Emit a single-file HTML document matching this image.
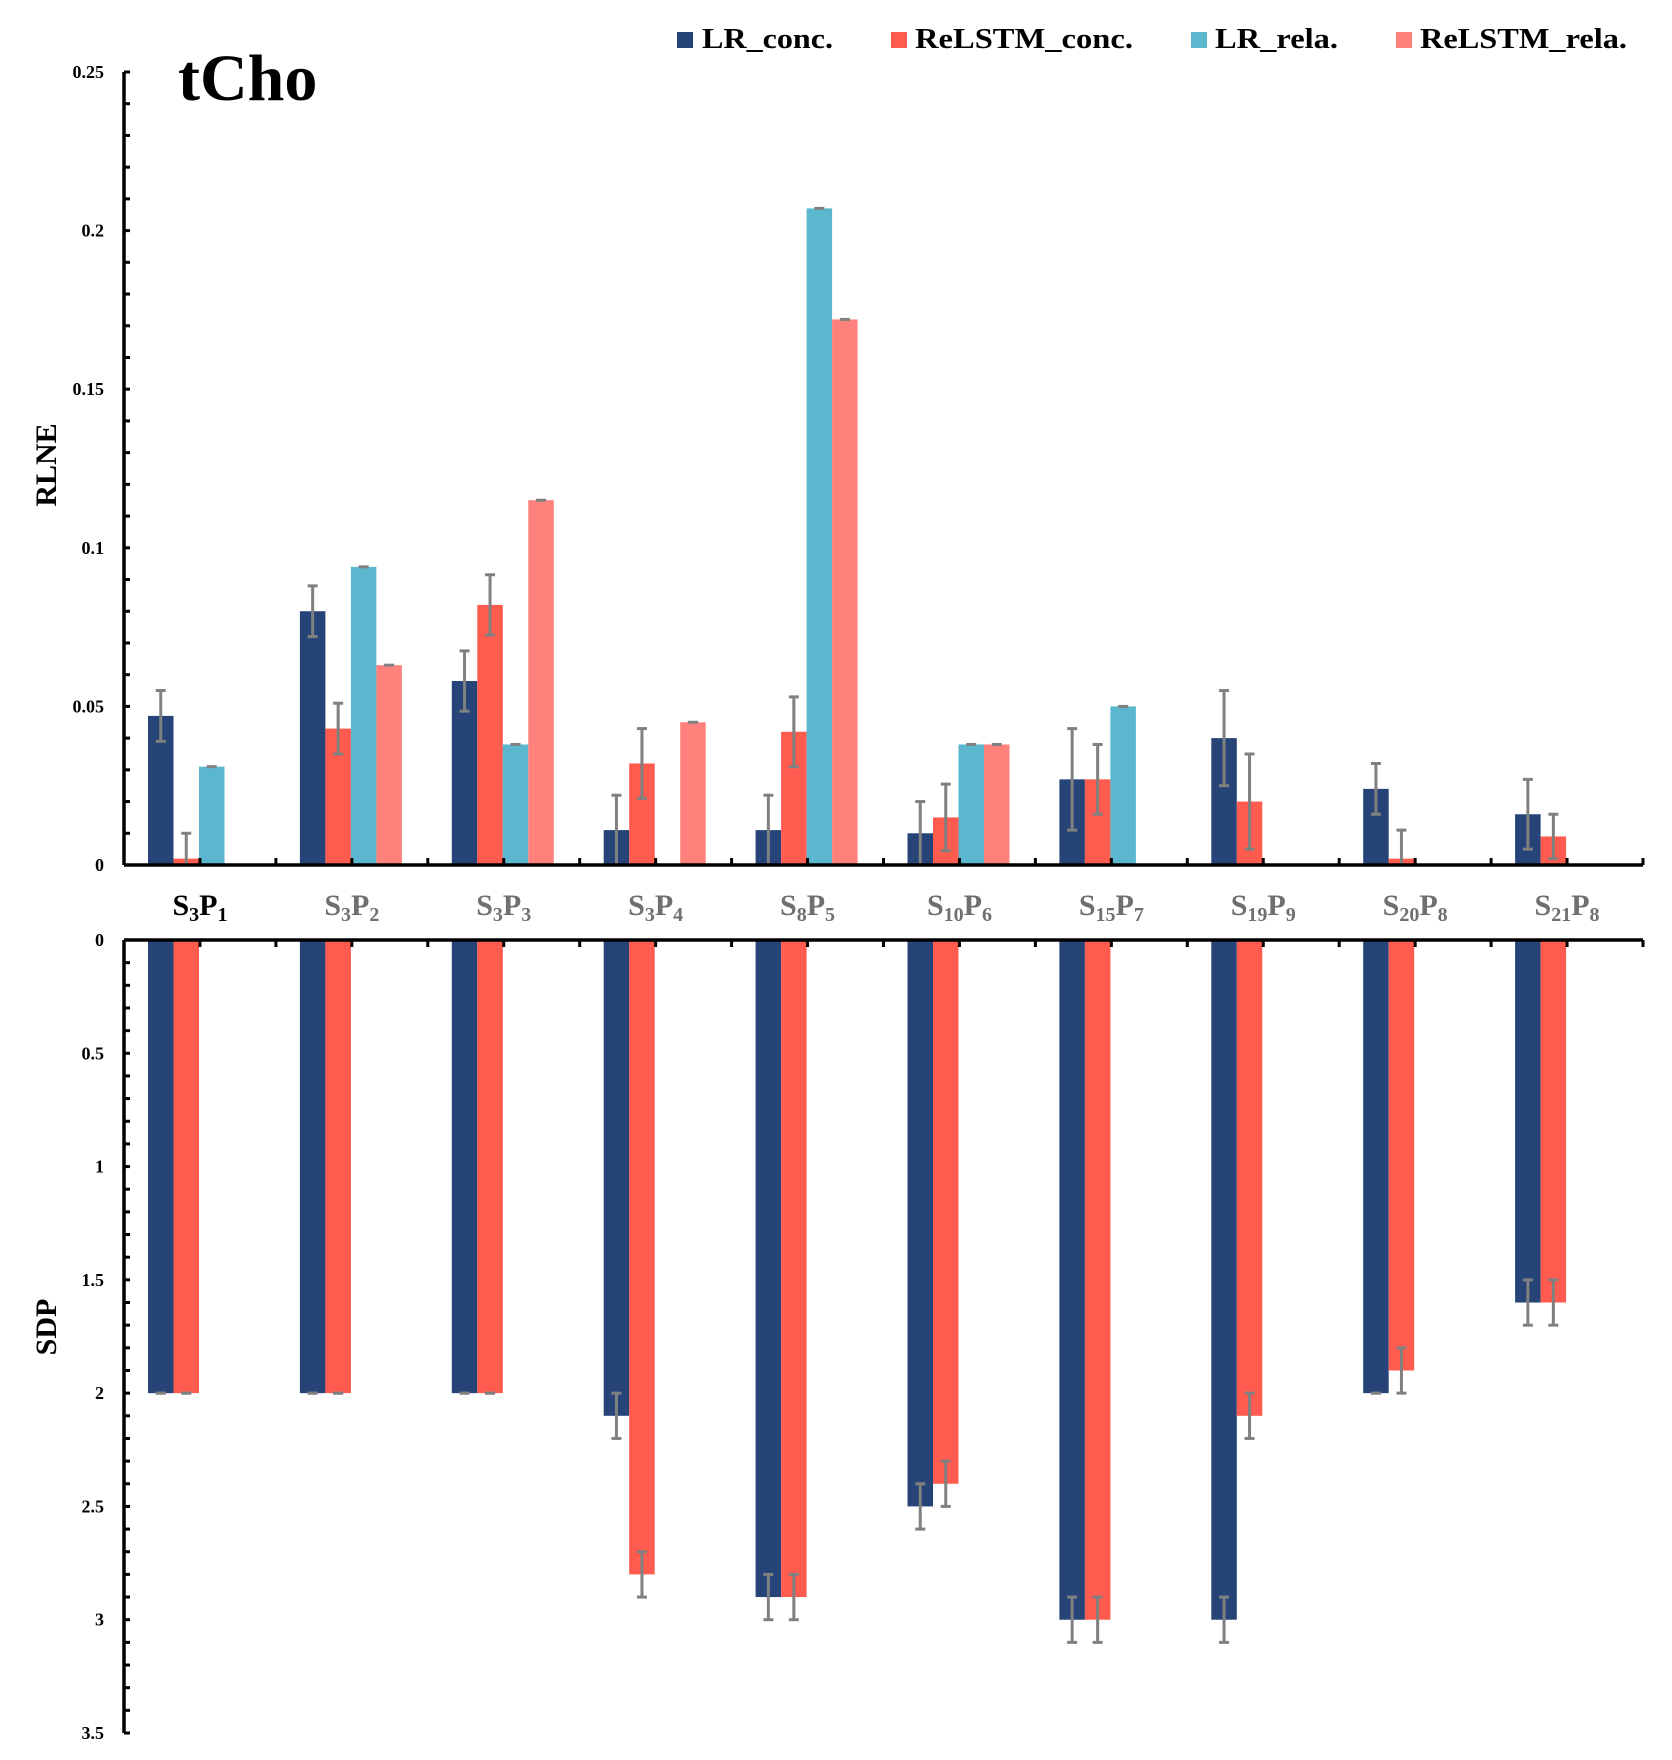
<!DOCTYPE html>
<html><head><meta charset="utf-8"><style>
html,body{margin:0;padding:0;background:#fff;}
svg{display:block;font-family:"Liberation Serif",serif;font-weight:bold;}
</style></head><body>
<svg id="chart" width="1672" height="1760" viewBox="0 0 1672 1760" xmlns="http://www.w3.org/2000/svg">
<text x="178" y="100" font-size="66">tCho</text>
<g>
<rect x="677" y="32" width="16" height="16" fill="#264478"/>
<text x="702" y="48" font-size="28" textLength="131" lengthAdjust="spacingAndGlyphs">LR_conc.</text>
<rect x="891" y="32" width="16" height="16" fill="#FF5B4F"/>
<text x="915" y="48" font-size="28" textLength="218" lengthAdjust="spacingAndGlyphs">ReLSTM_conc.</text>
<rect x="1191" y="32" width="16" height="16" fill="#5BB7CE"/>
<text x="1215" y="48" font-size="28" textLength="123" lengthAdjust="spacingAndGlyphs">LR_rela.</text>
<rect x="1396" y="32" width="16" height="16" fill="#FF817B"/>
<text x="1420" y="48" font-size="28" textLength="207" lengthAdjust="spacingAndGlyphs">ReLSTM_rela.</text>
</g>
<text transform="translate(56,465) rotate(-90)" text-anchor="middle" font-size="30">RLNE</text>
<text transform="translate(56,1327) rotate(-90)" text-anchor="middle" font-size="30">SDP</text>
<g id="marks"></g>
</svg>
<script>
const categories = [["3","1"],["3","2"],["3","3"],["3","4"],["8","5"],["10","6"],["15","7"],["19","9"],["20","8"],["21","8"]];
const lrConc = [0.047,0.080,0.058,0.011,0.011,0.010,0.027,0.040,0.024,0.016];
const lrConcErr = [0.008,0.008,0.0095,0.011,0.011,0.010,0.016,0.015,0.008,0.011];
const relstmConc = [0.002,0.043,0.082,0.032,0.042,0.015,0.027,0.020,0.002,0.009];
const relstmConcErr = [0.008,0.008,0.0095,0.011,0.011,0.0105,0.011,0.015,0.009,0.007];
const lrRela = [0.031,0.094,0.038,0,0.207,0.038,0.050,0,0,0];
const relstmRela = [0,0.063,0.115,0.045,0.172,0.038,0,0,0,0];
const sdpLr = [2,2,2,2.1,2.9,2.5,3,3,2,1.6];
const sdpLrErr = [0,0,0,0.1,0.1,0.1,0.1,0.1,0,0.1];
const sdpRelstm = [2,2,2,2.8,2.9,2.4,3,2.1,1.9,1.6];
const sdpRelstmErr = [0,0,0,0.1,0.1,0.1,0.1,0.1,0.1,0.1];
const topTicks = ["0","0.05","0.1","0.15","0.2","0.25"];
const botTicks = ["0","0.5","1","1.5","2","2.5","3","3.5"];

const NS="http://www.w3.org/2000/svg";
const g=document.getElementById('marks');
function mk(t,a,parent){const e=document.createElementNS(NS,t);for(const k in a)e.setAttribute(k,a[k]);(parent||g).appendChild(e);return e;}
const X0=124,X1=1643,catW=(X1-X0)/categories.length,barW=25.5;
const topY=v=>865-v/0.25*793;
const botY=v=>940+v/3.5*793;
const catX=i=>X0+i*catW;

function errBar(x,y1,y2,name){
  const l=mk('line',{x1:x,x2:x,y1:y1,y2:y2,stroke:'#808080','stroke-width':3});
  
  
  mk('line',{x1:x-5,x2:x+5,y1:y1,y2:y1,stroke:'#808080','stroke-width':3});
  mk('line',{x1:x-5,x2:x+5,y1:y2,y2:y2,stroke:'#808080','stroke-width':3});
}

const topSeries=[[lrConc,lrConcErr,'#264478','lr-conc'],[relstmConc,relstmConcErr,'#FF5B4F','relstm-conc'],[lrRela,null,'#5BB7CE','lr-rela'],[relstmRela,null,'#FF817B','relstm-rela']];
categories.forEach((c,i)=>{
  const gx=catX(i)+24;
  topSeries.forEach((s,j)=>{
    const v=s[0][i],x=gx+j*barW;
    const r=mk('rect',{x:x,y:topY(v),width:barW,height:Math.max(0,865-topY(v)),fill:s[2]});
    
    
    const e=s[1]?s[1][i]:0;
    if(s[1]) errBar(x+barW/2,topY(v+e),topY(Math.max(0,v-e)),'error-'+s[3]+'-'+(i+1));
    else if(v>0) mk('line',{x1:x+barW/2-5,x2:x+barW/2+5,y1:topY(v),y2:topY(v),stroke:'#808080','stroke-width':3});
  });
  [[sdpLr,sdpLrErr,'#264478','sdp-lr-conc'],[sdpRelstm,sdpRelstmErr,'#FF5B4F','sdp-relstm-conc']].forEach((s,j)=>{
    const v=s[0][i],x=gx+j*barW;
    const r=mk('rect',{x:x,y:940,width:barW,height:botY(v)-940,fill:s[2]});
    
    
    errBar(x+barW/2,botY(v-s[1][i]),botY(v+s[1][i]),'error-'+s[3]+'-'+(i+1));
  });
  const t=mk('text',{x:catX(i)+catW/2,y:915,'text-anchor':'middle','font-size':30,fill:i===0?'#000':'#6f6f6f'});
  
  
  t.innerHTML='S<tspan font-size="20" dy="6">'+c[0]+'</tspan><tspan dy="-6">P</tspan><tspan font-size="20" dy="6">'+c[1]+'</tspan>';
});

function axis(name,pts){const p=mk('polyline',{points:pts,fill:'none',stroke:'#000','stroke-width':3.5});}
axis('top-y-axis',X0+','+topY(0.25)+' '+X0+','+865);
axis('top-x-axis',X0+',865 '+X1+',865');
axis('bottom-y-axis',X0+',940 '+X0+','+botY(3.5));
axis('bottom-x-axis',X0+',940 '+X1+',940');
for(let k=0;k<=25;k++){const y=topY(k*0.01);mk('line',{x1:X0,x2:X0+6,y1:y,y2:y,stroke:'#000','stroke-width':3});}
for(let k=0;k<=35;k++){const y=botY(k*0.1);mk('line',{x1:X0,x2:X0+6,y1:y,y2:y,stroke:'#000','stroke-width':3});}
for(let k=1;k<=categories.length*2;k++){const x=catX(k/2);
  mk('line',{x1:x,x2:x,y1:865,y2:858,stroke:'#000','stroke-width':3});
  mk('line',{x1:x,x2:x,y1:940,y2:947,stroke:'#000','stroke-width':3});}
topTicks.forEach((t,k)=>{const e=mk('text',{x:104,y:topY(k*0.05)+6,'text-anchor':'end','font-size':18});
  
  
  e.textContent=t;});
botTicks.forEach((t,k)=>{const e=mk('text',{x:104,y:botY(k*0.5)+6,'text-anchor':'end','font-size':18});
  
  
  e.textContent=t;});
</script>
</body></html>
